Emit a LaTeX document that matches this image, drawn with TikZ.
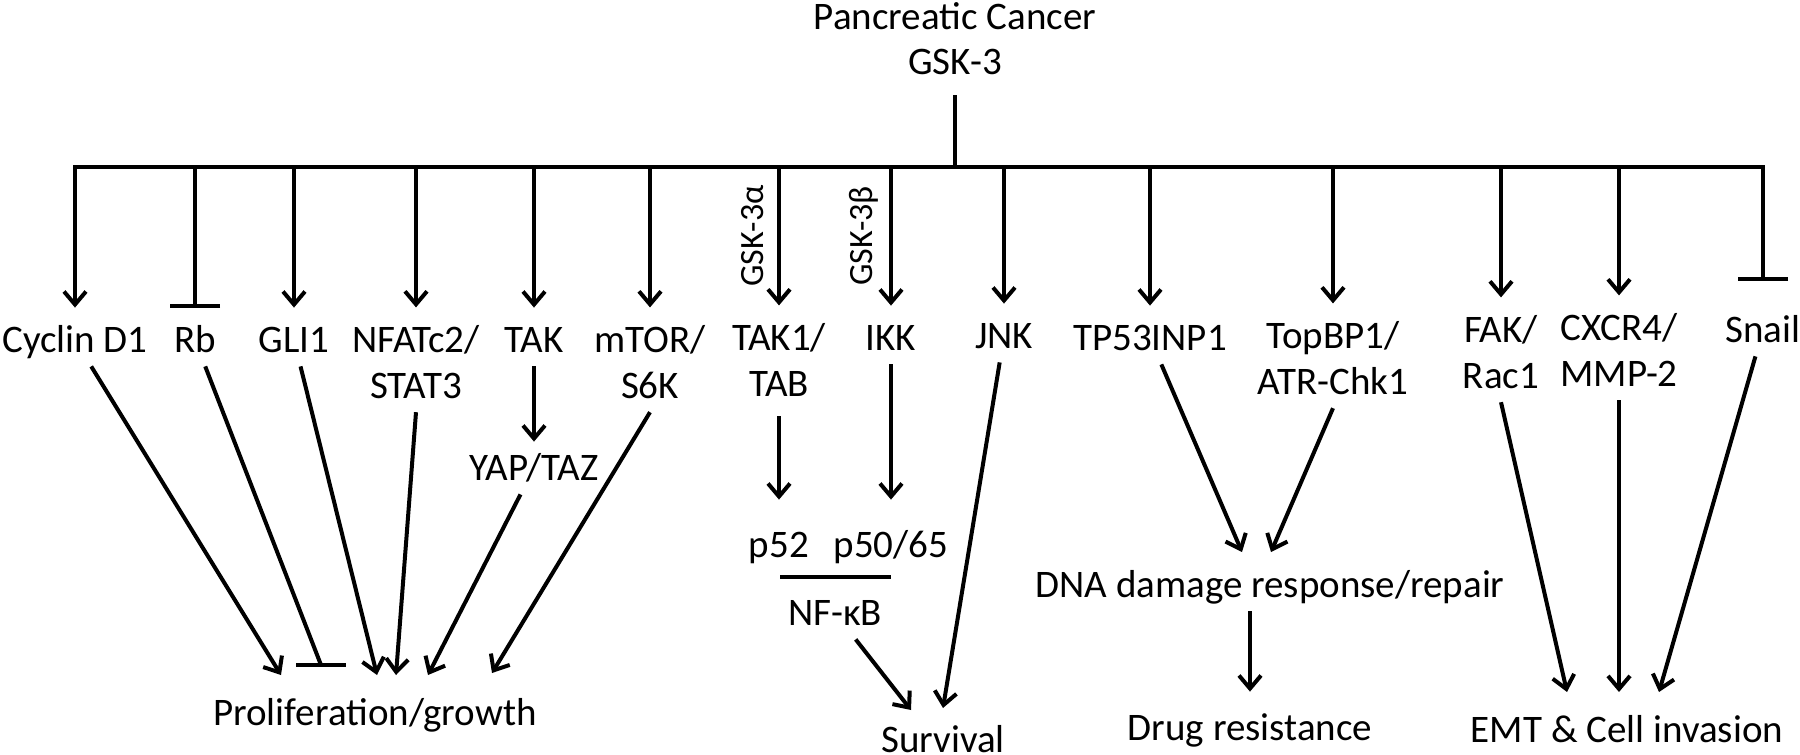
\documentclass[tikz,border=0pt]{standalone}
\usepackage{fontspec}
\setmainfont{Carlito}
\usetikzlibrary{arrows.meta}
\newcommand{\twoline}[2]{\begin{tabular}[t]{@{}c@{}}#1\\#2\end{tabular}}
\begin{document}
\begin{tikzpicture}[x=0.5pt,y=-0.5pt,
  base/.style={font=\fontsize{19.5}{23}\selectfont, inner sep=3pt, anchor=base},
  one/.style={base, text height=16pt, text depth=4pt},
  two/.style={base},
  rot/.style={font=\fontsize{17}{20}\selectfont, rotate=90, inner sep=0pt},
  ln/.style={line width=2pt},
  arr/.style={ln,-{Straight Barb[length=6.5pt,width=11pt]}},
  inh/.style={ln,-{Bar[width=25pt]}}]
\fill[white] (0,0) rectangle (1800,755);
\useasboundingbox (0,0) rectangle (1800,755);

% top
\node[base] (pc) at (955,30) {Pancreatic Cancer};
\node[base] (gsk) at (955,75) {GSK-3};
\coordinate (trunk) at (955,95);
\coordinate (bar) at (0,167);

% first row
\node[one] (cyc) at (75,352) {Cyclin D1};
\node[one] (rb) at (195,352) {Rb};
\node[one] (gli) at (294,352) {GLI1};
\node[two] (nfat) at (416,352) {\twoline{NFATc2/}{STAT3}};
\node[one] (tak) at (534,352) {TAK};
\node[two] (mtor) at (650,352) {\twoline{mTOR/}{S6K}};
\node[two] (tak1) at (779,350) {\twoline{TAK1/}{TAB}};
\node[one] (ikk) at (891,350) {IKK};
\node[one] (jnk) at (1004,348) {JNK};
\node[one] (tp53) at (1150,350) {TP53INP1};
\node[two] (topbp) at (1333,348) {\twoline{TopBP1/}{ATR-Chk1}};
\node[two] (fak) at (1501,342) {\twoline{FAK/}{Rac1}};
\node[two] (cxcr) at (1619,340) {\twoline{CXCR4/}{MMP-2}};
\node[one] (snail) at (1763,342) {Snail};

\node[rot] (ga) at (753,236) {GSK-3α};
\node[rot] (gb) at (864,236) {GSK-3β};

% second level
\node[one] (yap) at (534,480) {YAP/TAZ};
\node[one] (p52) at (779,557) {p52};
\node[one] (p50) at (891,557) {p50/65};
\node[one] (nfkb) at (835,625) {NF-κB};
\node[one] (dna) at (1270,597) {DNA damage response/repair};

% outcomes
\node[one] (prolif) at (375,725) {Proliferation/growth};
\node[one] (surv) at (943,752) {Survival};
\node[one] (drug) at (1250,740) {Drug resistance};
\node[one] (emt) at (1627,742) {EMT \& Cell invasion};

% trunk and bar
\draw[ln] (trunk) -- (trunk|-bar);
\draw[ln, line cap=rect] (cyc|-bar) -- (snail|-bar);

% branches
\foreach \n in {cyc,gli,nfat,tak,mtor,tak1,ikk,jnk,tp53,topbp,fak,cxcr}
  \draw[arr, shorten >=3pt] (\n|-bar) -- (\n);
\draw[inh, shorten >=3pt] (rb|-bar) -- (rb);
\draw[inh, shorten >=11.5pt] (snail|-bar) -- (snail);

% tips
\coordinate (tCyc) at (281,675);
\coordinate (tRb) at (321,665);
\coordinate (tGli) at (377,675);
\coordinate (tStat) at (396,675);
\coordinate (tYap) at (428,675);
\coordinate (tS6k) at (492,673);
\coordinate (tNfkb) at (911,710);
\coordinate (tJnk) at (943,708);
\coordinate (tTp) at (1242,552);
\coordinate (tAtr) at (1271,552);
\coordinate (tFak) at (1567,692);
\coordinate (tMmp) at (1619,692);
\coordinate (tSnail) at (1659,692);
\coordinate (nfL) at (780,577);
\coordinate (nfR) at (891,577);

% proliferation
\draw[arr] (cyc) -- (tCyc);
\draw[ln] (rb) -- (tRb);
\draw[ln] ([xshift=-12.5pt]tRb) -- ([xshift=12.5pt]tRb);
\draw[arr] (gli) -- (tGli);
\draw[arr] ([yshift=3pt]nfat.south) -- (tStat);
\draw[arr] (tak) -- (yap);
\draw[arr] (yap) -- (tYap);
\draw[arr] ([yshift=3pt]mtor.south) -- (tS6k);

% survival
\draw[arr, shorten >=9.5pt] (tak1) -- (p52);
\draw[arr, shorten >=9.5pt] (ikk) -- (p50);
\draw[ln] (nfL) -- (nfR);
\draw[arr] (nfkb) -- (tNfkb);
\draw[arr] (jnk) -- (tJnk);

% DNA damage
\draw[arr] (tp53) -- (tTp);
\draw[arr] ([yshift=3pt]topbp.south) -- (tAtr);
\draw[arr, shorten >=5pt] (drug|-dna.south) -- (drug);

% EMT
\draw[arr] ([yshift=3pt]fak.south) -- (tFak);
\draw[arr] ([yshift=3pt]cxcr.south) -- (tMmp);
\draw[arr] (snail) -- (tSnail);
\end{tikzpicture}
\end{document}
